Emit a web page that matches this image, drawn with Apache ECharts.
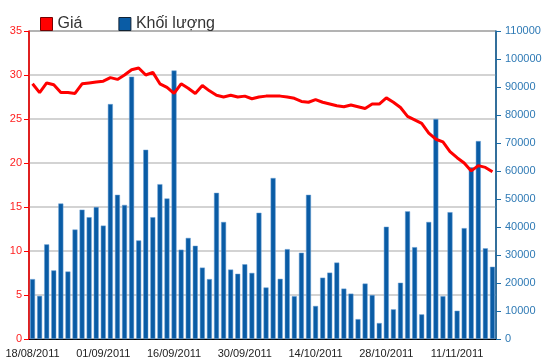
<!DOCTYPE html>
<html>
<head>
<meta charset="utf-8">
<script src="https://cdn.jsdelivr.net/npm/echarts@6/dist/echarts.min.js"></script>
<style>
html,body{margin:0;padding:0;background:#fff;}
#chart{width:550px;height:364px;}
</style>
</head>
<body>
<div id="chart"></div>
<script>
var dates = [
 "18/08/2011","19/08/2011","22/08/2011","23/08/2011","24/08/2011","25/08/2011","26/08/2011","29/08/2011","30/08/2011","31/08/2011",
 "01/09/2011","05/09/2011","06/09/2011","07/09/2011","08/09/2011","09/09/2011","12/09/2011","13/09/2011","14/09/2011","15/09/2011",
 "16/09/2011","19/09/2011","20/09/2011","21/09/2011","22/09/2011","23/09/2011","26/09/2011","27/09/2011","28/09/2011","29/09/2011",
 "30/09/2011","03/10/2011","04/10/2011","05/10/2011","06/10/2011","07/10/2011","10/10/2011","11/10/2011","12/10/2011","13/10/2011",
 "14/10/2011","17/10/2011","18/10/2011","19/10/2011","20/10/2011","21/10/2011","24/10/2011","25/10/2011","26/10/2011","27/10/2011",
 "28/10/2011","31/10/2011","01/11/2011","02/11/2011","03/11/2011","04/11/2011","07/11/2011","08/11/2011","09/11/2011","10/11/2011",
 "11/11/2011","14/11/2011","15/11/2011","16/11/2011","17/11/2011","18/11/2011"
];

var price = [
 29.0,28.0,29.1,28.9,28.0,28.0,27.9,29.0,29.1,29.2,
 29.3,29.7,29.5,30.0,30.6,30.8,30.0,30.3,29.0,28.6,
 27.9,29.0,28.5,27.9,28.8,28.2,27.7,27.5,27.7,27.5,
 27.6,27.3,27.5,27.6,27.6,27.6,27.5,27.35,27.0,26.9,
 27.2,26.9,26.7,26.5,26.4,26.6,26.4,26.2,26.7,26.7,
 27.4,26.9,26.3,25.3,24.9,24.5,23.4,22.7,22.4,21.3,
 20.6,20.0,19.1,19.7,19.5,19.0
];

var volume = [
 21400,15400,33800,24500,48400,24100,39100,46200,43500,47100,
 40500,83900,51500,47900,93700,35200,67600,43500,55300,50200,
 95900,31900,36100,33300,25500,21400,52200,41800,24800,23300,
 26700,23600,45100,18400,57500,21500,32100,15300,30800,51500,
 11800,21900,23700,27300,18000,16200,7100,19800,15700,5700,
 40100,10600,20100,45600,32800,8800,41800,78600,15300,45300,
 10100,39600,61300,70700,32400,25800
];

var priceTicks = {min:0, max:35, interval:5};
var volumeTicks = {min:0, max:110000, interval:10000};

var chart = echarts.init(document.getElementById('chart'), null, {renderer:'canvas'});
var font = 'Liberation Sans, Arial, sans-serif';
chart.setOption({
  animation:false,
  backgroundColor:'#ffffff',
  textStyle:{fontFamily:font},
  legend:{
    left:35, top:11,
    itemWidth:12, itemHeight:13, itemGap:36,
    textStyle:{fontSize:16, color:'#333', fontFamily:font},
    data:[
      {name:'Giá', icon:'rect', itemStyle:{color:'#ff0000', borderColor:'#700', borderWidth:1}},
      {name:'Khối lượng', icon:'rect', itemStyle:{color:'#0a5ca5', borderColor:'#123', borderWidth:1}}
    ]
  },
  grid:{left:29, right:54, top:31, bottom:25, show:true, borderColor:'#000', borderWidth:1, backgroundColor:'transparent'},
  xAxis:{
    type:'category', data:dates, boundaryGap:true,
    axisLine:{lineStyle:{color:'#000', width:1}},
    axisTick:{alignWithLabel:true, interval:9, length:5, lineStyle:{color:'#000'}},
    axisLabel:{interval:9, fontSize:11, color:'#222', margin:9, fontFamily:font}
  },
  yAxis:[
    {
      type:'value', position:'left', min:priceTicks.min, max:priceTicks.max, interval:priceTicks.interval,
      axisLine:{show:true, lineStyle:{color:'#ff0000', width:1.5}},
      axisTick:{show:true, length:5, lineStyle:{color:'#ff0000'}},
      axisLabel:{fontSize:11, color:'#ff2020', margin:7, fontFamily:font},
      splitLine:{show:true, lineStyle:{color:'#c4c4c4', width:1.5}}
    },
    {
      type:'value', position:'right', min:volumeTicks.min, max:volumeTicks.max, interval:volumeTicks.interval,
      axisLine:{show:true, lineStyle:{color:'#1a6aa5', width:1.5}},
      axisTick:{show:true, length:5, lineStyle:{color:'#1a6aa5'}},
      axisLabel:{fontSize:11, color:'#2f7ab5', margin:9, fontFamily:font, formatter:function(v){return String(v);}},
      splitLine:{show:false}
    }
  ],
  series:[
    {
      name:'Khối lượng', type:'bar', yAxisIndex:1, data:volume, barWidth:5,
      itemStyle:{color:'#0a5ca5', borderColor:'#6fa3d6', borderWidth:0.5},
      z:2
    },
    {
      name:'Giá', type:'line', yAxisIndex:0, data:price, showSymbol:false, symbol:'none',
      lineStyle:{color:'#ff0000', width:3}, itemStyle:{color:'#ff0000'},
      z:3
    }
  ]
});
</script>
</body>
</html>
